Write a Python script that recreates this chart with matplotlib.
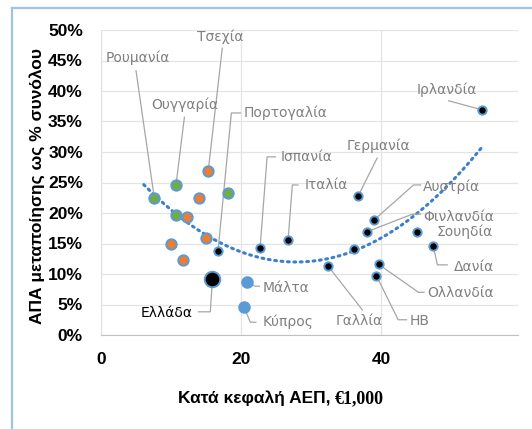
import matplotlib
matplotlib.use("Agg")
import matplotlib.pyplot as plt
import numpy as np
from matplotlib.lines import Line2D

# GDP per capita (thousand euro) vs manufacturing GVA share of total (%)
countries = ['Ρουμανία', 'Ουγγαρία', 'Τσεχία', '', '', '', '', '', '', '',
             'Πορτογαλία', 'Ελλάδα', 'Ισπανία', 'Ιταλία', 'Μάλτα', 'Κύπρος',
             'Γερμανία', 'Αυστρία', 'Φινλανδία', '', 'Σουηδία', 'Δανία',
             'Γαλλία', 'Ολλανδία', 'ΗΒ', 'Ιρλανδία']
gdp = [7.6, 10.7, 15.3, 14.0, 18.1, 10.7, 12.3, 15.0, 10.0, 11.7,
       16.7, 15.9, 22.7, 26.7, 20.9, 20.4,
       36.7, 39.0, 37.9, 36.1, 45.1, 47.4,
       32.4, 39.6, 39.3, 54.4]
share = [22.5, 24.6, 26.9, 22.5, 23.3, 19.7, 19.3, 15.9, 14.9, 12.3,
         13.8, 9.2, 14.3, 15.6, 8.7, 4.6,
         22.8, 18.9, 16.9, 14.1, 16.9, 14.6,
         11.3, 11.6, 9.7, 36.9]
group = ['g', 'g', 'o', 'o', 'g', 'g', 'o', 'o', 'o', 'o',
         'k', 'gr', 'k', 'k', 'b', 'b',
         'k', 'k', 'k', 'k', 'k', 'k',
         'k', 'k', 'k', 'k']

face = {'g': '#70ad47', 'o': '#ed7d31', 'k': '#000000', 'b': '#5b9bd5', 'gr': '#000000'}
msize = {'g': 56, 'o': 56, 'k': 36, 'b': 58, 'gr': 125}
edge = '#5b9bd5'

# label placement: text pos, alignment, leader path (from label side)
labels = {
    'Ρουμανία': ((5.3, 45.4), 'center', [(5.0, 43.3)]),
    'Τσεχία': ((17.0, 48.9), 'center', [(17.3, 47.0)]),
    'Ουγγαρία': ((12.0, 37.7), 'center', [(11.9, 35.7)]),
    'Πορτογαλία': ((20.4, 36.4), 'left', [(19.9, 36.4), (18.6, 36.4)]),
    'Ισπανία': ((25.7, 29.2), 'left', [(24.9, 29.2), (23.7, 29.2)]),
    'Ιταλία': ((29.1, 24.6), 'left', [(28.1, 24.6), (27.3, 24.6)]),
    'Γερμανία': ((39.6, 31.0), 'center', [(39.4, 29.0)]),
    'Αυστρία': ((46.0, 24.3), 'left', [(45.6, 24.6), (44.6, 24.6)]),
    'Φινλανδία': ((46.0, 19.3), 'left', [(45.6, 19.8), (44.4, 19.8)]),
    'Σουηδία': ((47.9, 16.9), 'left', []),
    'Δανία': ((50.3, 11.1), 'left', [(49.4, 11.5), (48.0, 11.5)]),
    'Ολλανδία': ((46.6, 6.9), 'left', [(46.1, 7.0), (45.3, 7.0)]),
    'ΗΒ': ((44.1, 2.3), 'left', [(43.6, 2.5), (42.4, 2.5)]),
    'Γαλλία': ((36.9, 2.3), 'center', [(37.3, 4.1)]),
    'Μάλτα': ((23.1, 7.7), 'left', [(22.6, 8.0), (22.0, 8.0)]),
    'Κύπρος': ((23.1, 2.1), 'left', [(22.1, 2.1), (21.3, 2.1)]),
    'Ελλάδα': ((13.1, 3.6), 'right', [(13.9, 3.8), (15.6, 3.8)]),
    'Ιρλανδία': ((49.3, 40.2), 'center', [(49.6, 38.4)]),
}

fig = plt.figure(figsize=(5.32, 4.29), dpi=100)
ax = fig.add_axes([101 / 532, 1 - 335 / 429, 417 / 532, 305 / 429])

ax.set_xlim(0, 59.5)
ax.set_ylim(0, 50)
ax.set_xticks([0, 20, 40])
ax.set_yticks(np.arange(0, 51, 5))
ax.set_yticklabels(['%d%%' % v for v in np.arange(0, 51, 5)])
ax.grid(True, color='#e4e4e4', lw=0.9)
ax.set_axisbelow(True)
for s in ['top', 'right']:
    ax.spines[s].set_visible(False)
ax.spines['left'].set_color('#e0e0e0')
ax.spines['bottom'].set_color('#c0c0c0')
ax.tick_params(length=0, pad=13)
ax.tick_params(axis='x', pad=12)
for t in ax.get_xticklabels() + ax.get_yticklabels():
    t.set_fontfamily('Liberation Sans')
    t.set_fontweight('bold')
    t.set_fontsize(12.5)

# polynomial trend (order 2)
coef = np.polyfit(gdp, share, 2)
xt = np.linspace(min(gdp) - 1.5, max(gdp), 200)
ax.plot(xt, np.polyval(coef, xt), color='#3d7fca', lw=2.2, ls=(0, (0.6, 1.5)),
        dash_capstyle='round', zorder=2)

# leader lines and labels
for i, name in enumerate(countries):
    if name not in labels:
        continue
    pos, ha, path = labels[name]
    pts = path + [(gdp[i], share[i])]
    ax.plot([p[0] for p in pts], [p[1] for p in pts], color='#a6a6a6', lw=0.9, zorder=2)
    ax.text(pos[0], pos[1], name, ha=ha, va='center', fontsize=10,
            color='#000000' if name == 'Ελλάδα' else '#808080', zorder=4)

for i in range(len(gdp)):
    g = group[i]
    ax.scatter(gdp[i], share[i], s=msize[g], c=face[g], edgecolors=edge,
               linewidths=1.4, zorder=3)

fig.text(37 / 532, 1 - 186 / 429, 'ΑΠΑ μεταποίησης ως % συνόλου', rotation=90,
         ha='center', va='center', fontsize=12.5, fontweight='bold',
         family='Liberation Sans')
fig.text(331 / 532, 1 - 403 / 429, 'Κατά κεφαλή ΑΕΠ,', ha='right', va='baseline',
         fontsize=12.5, fontweight='bold', family='Liberation Sans')
fig.text(335 / 532, 1 - 403 / 429, '€1,000', ha='left', va='baseline',
         fontsize=13, fontweight='bold', family='Liberation Serif')

# outer frame (left and top edges)
fig.add_artist(Line2D([12 / 532, 12 / 532], [0, 1 - 8 / 429], transform=fig.transFigure,
                      color='#9dc3e6', lw=1.6))
fig.add_artist(Line2D([12 / 532, 1], [1 - 8 / 429, 1 - 8 / 429], transform=fig.transFigure,
                      color='#9dc3e6', lw=1.6))

fig.savefig('out.png', dpi=100)
